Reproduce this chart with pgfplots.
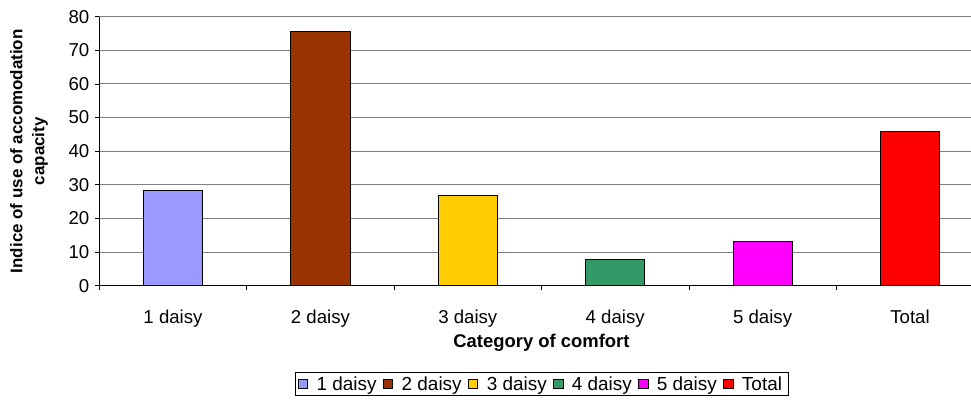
\documentclass[border=0pt]{standalone}
\usepackage{fontspec}
\setmainfont{Liberation Sans}
\usepackage{pgfplots}
\pgfplotsset{compat=1.18}
\definecolor{c1}{HTML}{9999FF}
\definecolor{c2}{HTML}{993300}
\definecolor{c3}{HTML}{FFCC00}
\definecolor{c4}{HTML}{339966}
\definecolor{c5}{HTML}{FF00FF}
\definecolor{c6}{HTML}{FF0000}
\definecolor{gridc}{HTML}{808080}
\pgfplotsset{
  sq/.style={legend image code/.code={\draw[##1, line width=0.8bp] (0bp,-4.6bp) rectangle (9.3bp,4.6bp);}},
  bb/.style={ybar, bar width=59.3bp, bar shift=0pt, draw=black, line width=0.8bp, fill=#1, sq},
}
\begin{document}
\begin{tikzpicture}
\useasboundingbox (0,0) rectangle (971bp,400bp);
\begin{axis}[
  at={(99.3bp,114.3bp)}, anchor=south west,
  scale only axis, width=884.4bp, height=269bp,
  xmin=-0.5, xmax=5.5, ymin=0, ymax=80,
  axis lines=left, axis line style={-, line width=0.8bp, black},
  xtick={-0.5,0.5,1.5,2.5,3.5,4.5,5.5}, x tick label as interval,
  xticklabels={1 daisy,2 daisy,3 daisy,4 daisy,5 daisy,Total},
  ytick={0,10,...,80},
  tick align=outside, major tick length=4.5bp,
  tick style={line width=0.8bp, black},
  ymajorgrids, grid style={line width=1bp, color=gridc},
  /pgf/number format/assume math mode=true,
  ticklabel style={font=\fontsize{18.7}{20}\selectfont},
  xticklabel style={anchor=base, yshift=-33bp},
  yticklabel style={anchor=east, xshift=-2bp},
  xlabel={Category of comfort},
  xlabel style={at={(axis description cs:0.5,-0.2305)}, anchor=base, font=\fontsize{18.5}{20}\selectfont\bfseries},
  ylabel={Indice of use of accomodation\\capacity},
  ylabel style={at={(axis description cs:-0.0795,0.5)}, anchor=center, align=center, font=\fontsize{17}{22}\selectfont\bfseries},
  legend columns=6,
  legend style={at={(axis description cs:0.5,-0.3208)}, anchor=north, draw=black, line width=0.8bp,
    font=\fontsize{19}{21}\selectfont,
    nodes={inner xsep=3bp, inner ysep=2bp},
    /tikz/every even column/.append style={column sep=3.5bp},
    /tikz/every odd column/.append style={column sep=5.5bp}},
]
\addplot[bb=c1] coordinates {(0,28.4)};
\addlegendentry{1 daisy}
\addplot[bb=c2] coordinates {(1,75.7)};
\addlegendentry{2 daisy}
\addplot[bb=c3] coordinates {(2,26.9)};
\addlegendentry{3 daisy}
\addplot[bb=c4] coordinates {(3,7.8)};
\addlegendentry{4 daisy}
\addplot[bb=c5] coordinates {(4,13.3)};
\addlegendentry{5 daisy}
\addplot[bb=c6] coordinates {(5,46.0)};
\addlegendentry{Total}
\end{axis}
\end{tikzpicture}
\end{document}
